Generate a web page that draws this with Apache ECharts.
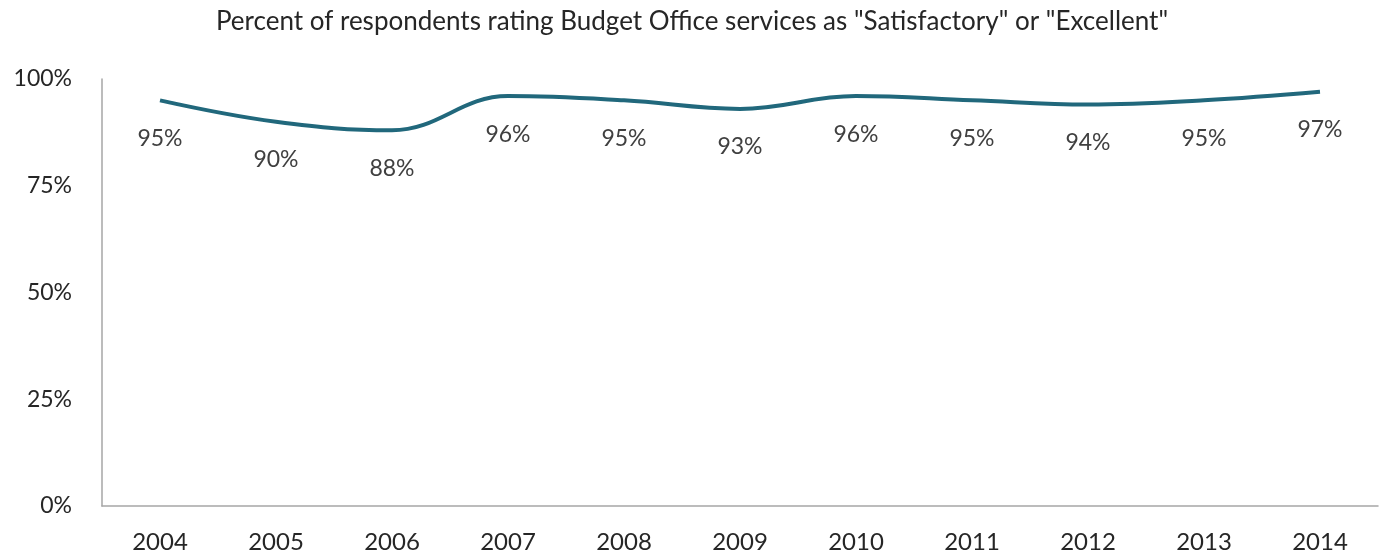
<!DOCTYPE html>
<html>
<head>
<meta charset="utf-8">
<script src="https://cdn.jsdelivr.net/npm/echarts@6/dist/echarts.min.js"></script>
<style>
  html, body { margin: 0; padding: 0; background: #ffffff; }
  #chart { width: 1384px; height: 558px; }
</style>
</head>
<body>
<div id="chart"></div>
<script>
// Survey years on the x axis
const years = ['2004', '2005', '2006', '2007', '2008', '2009', '2010', '2011', '2012', '2013', '2014'];
// Share of respondents rating services "Satisfactory" or "Excellent" (%)
const satisfiedPct = [95, 90, 88, 96, 95, 93, 96, 95, 94, 95, 97];
// Value axis ticks (%)
const yTicks = [0, 25, 50, 75, 100];

const titleText = 'Percent of respondents rating Budget Office services as "Satisfactory" or "Excellent"';
const fontFamily = 'Lato, "Open Sans", sans-serif';

const chart = echarts.init(document.getElementById('chart'), null, { renderer: 'canvas' });

chart.setOption({
  animation: false,
  backgroundColor: '#ffffff',
  title: {
    text: titleText,
    left: 'center',
    top: 4,
    textStyle: { fontFamily, fontSize: 26, fontWeight: 'normal', color: '#262626' }
  },
  grid: { left: 102, right: 6, top: 79, bottom: 52 },
  xAxis: {
    type: 'category',
    data: years,
    boundaryGap: true,
    axisLine: { show: true, lineStyle: { color: '#a6a6a6', width: 1.5 } },
    axisTick: { show: false },
    axisLabel: { fontFamily, fontSize: 24, color: '#262626', margin: 24 },
    splitLine: { show: false }
  },
  yAxis: {
    type: 'value',
    min: yTicks[0],
    max: yTicks[yTicks.length - 1],
    interval: yTicks[1] - yTicks[0],
    axisLine: { show: true, lineStyle: { color: '#a6a6a6', width: 1.5 } },
    axisTick: { show: false },
    splitLine: { show: false },
    axisLabel: {
      fontFamily, fontSize: 23, color: '#262626', margin: 30,
      formatter: v => v + '%'
    }
  },
  series: [{
    type: 'line',
    data: satisfiedPct,
    smooth: 0.4,
    showSymbol: true,
    symbol: 'circle',
    symbolSize: 1,
    itemStyle: { color: 'rgba(33,104,124,0)', borderWidth: 0 },
    lineStyle: { color: '#21687c', width: 4 },
    label: {
      show: true,
      position: 'bottom',
      distance: 26,
      fontFamily, fontSize: 23, color: '#404040',
      formatter: p => p.value + '%'
    }
  }]
});
</script>
</body>
</html>
